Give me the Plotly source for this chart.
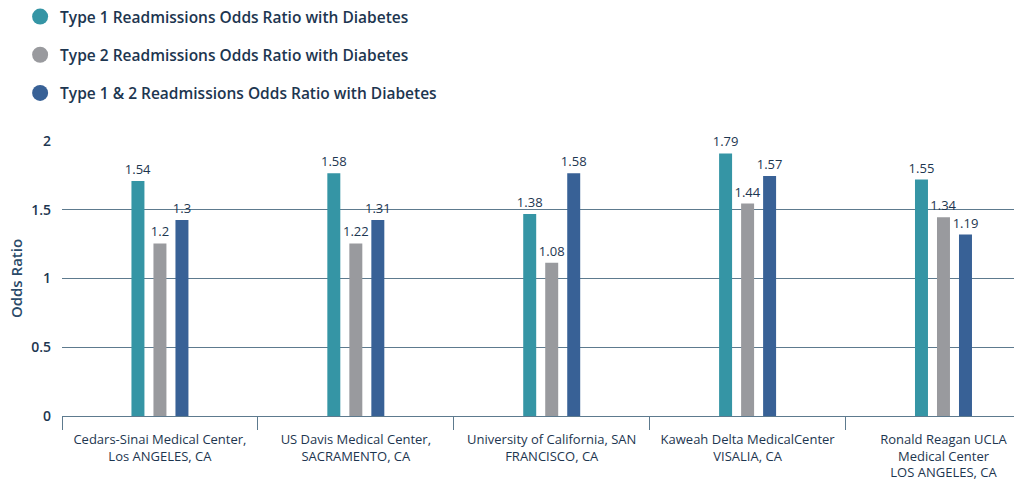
import plotly.graph_objects as go

categories = [
    "Cedars-Sinai Medical Center,<br>Los ANGELES, CA",
    "US Davis Medical Center,<br>SACRAMENTO, CA",
    "University of California, SAN<br>FRANCISCO, CA",
    "Kaweah Delta MedicalCenter<br>VISALIA, CA",
    "Ronald Reagan UCLA<br>Medical Center<br>LOS ANGELES, CA",
]
series_names = [
    "Type 1 Readmissions Odds Ratio with Diabetes",
    "Type 2 Readmissions Odds Ratio with Diabetes",
    "Type 1 & 2 Readmissions Odds Ratio with Diabetes",
]
# bar heights as drawn in the picture
type1_bar = [1.71, 1.765, 1.47, 1.91, 1.72]
type2_bar = [1.255, 1.255, 1.115, 1.545, 1.445]
type12_bar = [1.425, 1.425, 1.765, 1.745, 1.32]
# value labels as printed above the bars
type1_label = ["1.54", "1.58", "1.38", "1.79", "1.55"]
type2_label = ["1.2", "1.22", "1.08", "1.44", "1.34"]
type12_label = ["1.3", "1.31", "1.58", "1.57", "1.19"]
y_ticks = [0, 0.5, 1, 1.5, 2]
y_tick_text = ["0", "0.5", "1", "1.5", "2"]

colors = ["#3595a5", "#999a9e", "#386196"]
text_color = "#1d3650"
grid_color = "#5d7a8e"
font_family = "Open Sans, Noto Sans, sans-serif"

fig = go.Figure()
bars = [type1_bar, type2_bar, type12_bar]
labels = [type1_label, type2_label, type12_label]
for name, vals, labs, col in zip(series_names, bars, labels, colors):
    fig.add_trace(go.Bar(
        x=categories, y=vals, text=labs, name=name,
        marker=dict(color=col, line=dict(width=0)),
        textposition="outside", cliponaxis=False, constraintext="none",
        textfont=dict(size=13, color=text_color, family=font_family),
        showlegend=False, hoverinfo="skip",
    ))
for i, (name, col) in enumerate(zip(series_names, colors)):
    fig.add_trace(go.Scatter(
        x=[None], y=[None], mode="markers", name=name,
        legendgroup=str(i),
        marker=dict(color=col, size=18, symbol="circle"),
    ))

fig.update_layout(
    width=1014, height=481,
    margin=dict(l=62, r=0, t=141, b=65),
    paper_bgcolor="white", plot_bgcolor="white",
    barmode="group", bargap=0.663, bargroupgap=0.41,
    font=dict(family=font_family, color=text_color),
    showlegend=True,
    legend=dict(
        x=-0.044, xref="paper", y=1.0, yref="container",
        xanchor="left", yanchor="top",
        orientation="v", tracegroupgap=15, itemsizing="trace",
        font=dict(size=15.5, color=text_color, family=font_family, weight=600),
        bgcolor="rgba(0,0,0,0)",
    ),
    xaxis=dict(
        type="category", range=[-0.5, 4.36], automargin=False,
        showgrid=False, showline=True, linecolor=grid_color, linewidth=1,
        ticks="outside", tickson="boundaries", ticklen=13, tickcolor=grid_color,
        ticklabelstandoff=11, tickangle=0,
        tickfont=dict(size=13, color=text_color, family=font_family),
        zeroline=False,
    ),
    yaxis=dict(
        range=[0, 2], tickvals=y_ticks, ticktext=y_tick_text,
        showgrid=True, gridcolor=grid_color, gridwidth=1,
        zeroline=False, showline=False, ticks="", ticklabelstandoff=10,
        tickfont=dict(size=14, color=text_color, family=font_family, weight=600),
        title=dict(text="Odds Ratio", standoff=4,
                   font=dict(size=15, color="#2a4a68", family=font_family, weight=600)),
    ),
)
fig.write_html("out.html")
